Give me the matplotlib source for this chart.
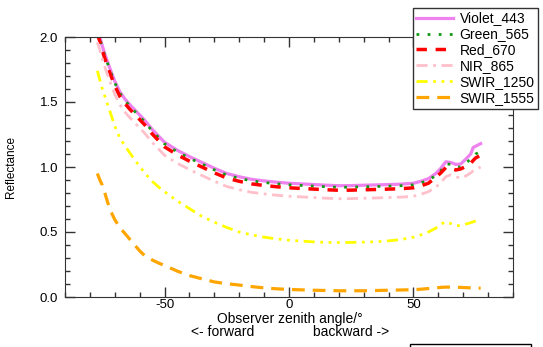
import matplotlib
matplotlib.use("Agg")
import matplotlib.pyplot as plt
from matplotlib.patches import Rectangle
from matplotlib.ticker import MultipleLocator

plt.rcParams['font.family'] = ['Liberation Sans', 'DejaVu Sans']
plt.rcParams['axes.unicode_minus'] = False

# observer zenith angle (deg), negative = forward
angles = [-77, -76, -75, -74, -72, -70, -68, -66, -64, -62, -60, -58, -55, -52, -50,
          -45, -40, -35, -30, -25, -20, -15, -10, -5, 0, 5, 10, 15, 20, 25, 30, 35,
          40, 45, 50, 53, 56, 59, 61, 63, 65, 67, 69, 71, 73, 74, 75, 77]

violet_443 = [2.06, 2.00, 1.93, 1.87, 1.76, 1.66, 1.58, 1.525, 1.48, 1.44, 1.40, 1.36, 1.29, 1.23, 1.19,
              1.13, 1.08, 1.035, 0.99, 0.95, 0.925, 0.905, 0.893, 0.883, 0.875, 0.87, 0.865, 0.86, 0.856,
              0.857, 0.86, 0.862, 0.865, 0.868, 0.875, 0.89, 0.91, 0.95, 0.99, 1.04, 1.035, 1.02, 1.023,
              1.06, 1.10, 1.15, 1.16, 1.18]
green_565 = [2.048, 1.988, 1.918, 1.858, 1.748, 1.648, 1.568, 1.513, 1.468, 1.428, 1.388, 1.348, 1.278,
             1.218, 1.178, 1.118, 1.068, 1.023, 0.978, 0.938, 0.913, 0.893, 0.881, 0.871, 0.863, 0.858,
             0.853, 0.848, 0.844, 0.845, 0.848, 0.85, 0.853, 0.856, 0.863, 0.878, 0.898, 0.935, 0.97,
             1.025, 1.02, 1.0, 1.0, 1.03, 1.06, 1.08, 1.10, 1.12]
red_670 = [2.025, 1.965, 1.895, 1.835, 1.725, 1.625, 1.545, 1.49, 1.445, 1.405, 1.365, 1.325, 1.255,
           1.195, 1.155, 1.095, 1.045, 1.0, 0.955, 0.915, 0.89, 0.87, 0.858, 0.848, 0.84, 0.835, 0.83,
           0.825, 0.821, 0.822, 0.825, 0.827, 0.83, 0.833, 0.84, 0.855, 0.875, 0.92, 0.955, 0.995, 0.99,
           0.977, 0.985, 1.005, 1.028, 1.05, 1.07, 1.09]
nir_865 = [1.96, 1.90, 1.83, 1.77, 1.66, 1.56, 1.48, 1.425, 1.38, 1.34, 1.30, 1.26, 1.19, 1.13, 1.09,
           1.03, 0.98, 0.935, 0.89, 0.85, 0.825, 0.805, 0.793, 0.783, 0.775, 0.77, 0.765, 0.76, 0.756,
           0.757, 0.76, 0.762, 0.765, 0.768, 0.775, 0.79, 0.81, 0.845, 0.88, 0.925, 0.94, 0.925, 0.915,
           0.93, 0.955, 0.97, 0.98, 1.0]
swir_1250 = [1.74, 1.67, 1.60, 1.545, 1.43, 1.315, 1.225, 1.165, 1.11, 1.055, 1.005, 0.955, 0.89, 0.84,
             0.81, 0.74, 0.68, 0.62, 0.575, 0.535, 0.50, 0.478, 0.46, 0.447, 0.437, 0.43, 0.424, 0.42,
             0.419, 0.42, 0.422, 0.425, 0.432, 0.442, 0.46, 0.478, 0.50, 0.53, 0.56, 0.58, 0.565, 0.55,
             0.548, 0.56, 0.572, 0.578, 0.585, 0.592]
swir_1555 = [0.95, 0.90, 0.86, 0.80, 0.675, 0.595, 0.535, 0.49, 0.445, 0.40, 0.355, 0.318, 0.285, 0.258,
             0.243, 0.20, 0.165, 0.14, 0.116, 0.102, 0.092, 0.08, 0.07, 0.063, 0.058, 0.055, 0.052, 0.05,
             0.048, 0.048, 0.048, 0.05, 0.052, 0.054, 0.056, 0.06, 0.065, 0.07, 0.074, 0.076, 0.076, 0.075,
             0.074, 0.072, 0.07, 0.069, 0.068, 0.068]

fig = plt.figure(figsize=(5.43, 3.47), dpi=100)
ax = fig.add_axes([65 / 543, 1 - 297 / 347, 448 / 543, 260 / 347])

ax.plot(angles, violet_443, color='violet', lw=2.3, label='Violet_443')
ax.plot(angles, green_565, color='#119911', lw=2.0, ls=(0, (1, 3)), label='Green_565')
ax.plot(angles, red_670, color='red', lw=2.5, ls=(0, (3, 2.5)), label='Red_670')
ax.plot(angles, nir_865, color='pink', lw=2.0, ls=(0, (4, 2, 1, 2)), label='NIR_865')
ax.plot(angles, swir_1250, color='yellow', lw=2.0, ls=(0, (4, 2, 1, 2, 1, 2, 1, 2)), label='SWIR_1250')
ax.plot(angles, swir_1555, color='orange', lw=2.3, ls=(0, (4, 2.5)), label='SWIR_1555')

ax.set_xlim(-90, 90)
ax.set_ylim(0, 2.0)
ax.xaxis.set_major_locator(MultipleLocator(50))
ax.xaxis.set_minor_locator(MultipleLocator(10))
ax.yaxis.set_major_locator(MultipleLocator(0.5))
ax.yaxis.set_minor_locator(MultipleLocator(0.1))
ax.yaxis.set_major_formatter(matplotlib.ticker.FormatStrFormatter('%.1f'))
ax.tick_params(which='both', direction='in', top=True, right=True, colors='#333333',
               labelcolor='black', labelsize=9.5)
ax.tick_params(which='major', length=7, width=1)
ax.tick_params(which='minor', length=3.5, width=1)
ax.tick_params(axis='x', pad=1.5)
ax.tick_params(axis='y', pad=5)
for s in ax.spines.values():
    s.set_color('#333333')

ax.set_ylabel('Reflectance', fontsize=8.5)
ax.yaxis.set_label_coords((17 - 65) / 448, 0.5)
fig.text(290 / 543, 1 - 319 / 347, 'Observer zenith angle/°', ha='center', va='center', fontsize=10)
fig.text(223 / 543, 1 - 332 / 347, '<- forward', ha='center', va='center', fontsize=10)
fig.text(351 / 543, 1 - 332 / 347, 'backward ->', ha='center', va='center', fontsize=10)

leg = fig.legend(loc='upper right', bbox_to_anchor=(538 / 543, 1 - 8 / 347), fontsize=10,
                 fancybox=False, framealpha=1, edgecolor='#333333', handlelength=2.6,
                 labelspacing=0.14, borderpad=0.25, handletextpad=0.5, borderaxespad=0)
leg.get_frame().set_linewidth(1)

# cut-off box at the bottom edge
fig.add_artist(Rectangle((410 / 543, -0.05), 121 / 543, 0.05 + 3 / 347, transform=fig.transFigure,
                         fill=False, edgecolor='black', lw=1))

fig.savefig('out.png', dpi=100)
